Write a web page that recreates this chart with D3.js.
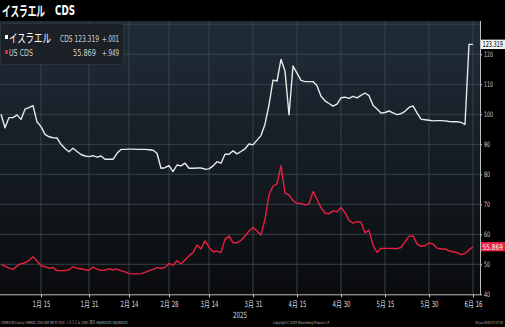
<!DOCTYPE html>
<html><head><meta charset="utf-8">
<script src="https://cdn.jsdelivr.net/npm/d3@7"></script>
<style>
html,body{margin:0;padding:0;background:#000;}
svg{display:block;}
text{font-family:"Liberation Sans Narrow","DejaVu Sans Condensed","Noto Sans CJK JP",sans-serif;}
.jp{font-family:"Noto Sans CJK JP",sans-serif;}
</style></head><body>
<svg id="c" width="505" height="327"></svg>
<script>
const dates = [
"2025-01-01","2025-01-02","2025-01-03","2025-01-06","2025-01-07","2025-01-08","2025-01-09","2025-01-10","2025-01-13","2025-01-14",
"2025-01-15","2025-01-16","2025-01-17","2025-01-20","2025-01-21","2025-01-22","2025-01-23","2025-01-24","2025-01-27","2025-01-28",
"2025-01-29","2025-01-30","2025-01-31","2025-02-03","2025-02-04","2025-02-05","2025-02-06","2025-02-07","2025-02-10","2025-02-11",
"2025-02-12","2025-02-13","2025-02-14","2025-02-17","2025-02-18","2025-02-19","2025-02-20","2025-02-21","2025-02-24","2025-02-25",
"2025-02-26","2025-02-27","2025-02-28","2025-03-03","2025-03-04","2025-03-05","2025-03-06","2025-03-07","2025-03-10","2025-03-11",
"2025-03-12","2025-03-13","2025-03-14","2025-03-17","2025-03-18","2025-03-19","2025-03-20","2025-03-21","2025-03-24","2025-03-25",
"2025-03-26","2025-03-27","2025-03-28","2025-03-31","2025-04-01","2025-04-02","2025-04-03","2025-04-04","2025-04-07","2025-04-08",
"2025-04-09","2025-04-10","2025-04-11","2025-04-14","2025-04-15","2025-04-16","2025-04-17","2025-04-18","2025-04-21","2025-04-22",
"2025-04-23","2025-04-24","2025-04-25","2025-04-28","2025-04-29","2025-04-30","2025-05-01","2025-05-02","2025-05-05","2025-05-06",
"2025-05-07","2025-05-08","2025-05-09","2025-05-12","2025-05-13","2025-05-14","2025-05-15","2025-05-16","2025-05-19","2025-05-20",
"2025-05-21","2025-05-22","2025-05-23","2025-05-26","2025-05-27","2025-05-28","2025-05-29","2025-05-30","2025-06-02","2025-06-03",
"2025-06-04","2025-06-05","2025-06-06","2025-06-09","2025-06-10","2025-06-11","2025-06-12","2025-06-13","2025-06-16"
];
const israelCDS = [
100.0, 95.5, 98.9, 98.9, 99.8, 98.3, 101.7, 102.2, 102.9, 97.5,
95.9, 93.3, 92.5, 92.2, 92.1, 90.0, 88.6, 87.5, 88.7, 87.6,
86.6, 86.1, 85.9, 86.2, 85.7, 86.1, 85.0, 85.0, 85.0, 87.0,
88.3, 88.3, 88.4, 88.4, 88.3, 88.3, 88.3, 88.2, 88.0, 87.0,
82.0, 82.2, 82.9, 80.9, 83.1, 82.8, 83.7, 82.0, 82.0, 82.1,
82.1, 81.7, 81.8, 82.8, 84.2, 83.7, 86.7, 86.7, 87.8, 86.8,
87.6, 88.5, 90.1, 89.8, 91.4, 92.9, 96.7, 103.1, 111.4, 111.1,
118.3, 114.4, 99.8, 116.1, 113.7, 111.3, 110.9, 110.9, 110.9, 109.5,
106.0, 104.5, 103.6, 102.7, 103.4, 105.5, 105.7, 105.3, 106.0, 105.5,
106.3, 107.1, 106.2, 103.0, 101.8, 100.4, 100.6, 101.1, 100.5, 99.9,
100.2, 101.0, 102.3, 102.8, 100.5, 98.4, 98.2, 98.0, 97.8, 97.9,
97.9, 97.8, 97.6, 97.5, 97.5, 97.3, 96.6, 123.3, 123.319
];
const usCDS = [
50.0, 49.4, 48.7, 48.3, 49.4, 50.2, 50.5, 51.3, 52.5, 51.2,
49.5, 49.2, 48.7, 48.9, 47.9, 47.9, 47.9, 48.2, 49.2, 48.7,
48.5, 48.2, 48.0, 49.1, 48.4, 48.0, 48.1, 48.5, 48.2, 48.4,
47.8, 47.5, 46.9, 46.8, 46.8, 46.9, 47.3, 47.9, 48.3, 48.9,
48.6, 49.0, 50.3, 49.7, 51.2, 50.1, 51.4, 52.8, 53.9, 56.4,
55.1, 57.8, 55.7, 54.2, 54.4, 53.9, 58.3, 59.4, 57.2, 57.2,
58.0, 59.4, 61.1, 62.3, 61.1, 59.8, 65.0, 73.1, 76.1, 76.8,
82.9, 73.7, 73.1, 71.2, 70.3, 70.3, 69.8, 70.1, 74.2, 71.7,
68.9, 67.1, 66.8, 67.8, 67.5, 68.9, 67.2, 64.7, 63.7, 64.2,
64.0, 60.5, 61.4, 56.4, 54.0, 55.3, 55.3, 55.3, 55.3, 55.2,
55.6, 57.5, 59.3, 59.5, 56.8, 56.0, 56.2, 57.1, 56.8, 55.4,
55.1, 55.1, 54.5, 54.2, 53.9, 53.2, 53.6, 54.8, 55.869
];
const tickDates = ["2025-01-15","2025-01-31","2025-02-14","2025-02-28","2025-03-14","2025-03-31","2025-04-15","2025-04-30","2025-05-15","2025-05-30","2025-06-16"];
const tickLabels = ["1月 15","1月 31","2月 14","2月 28","3月 14","3月 31","4月 15","4月 30","5月 15","5月 30","6月 16"];
const yTicks = [40,50,60,70,80,90,100,110,120];
const gridVals = [50,60,70,80,90,100,110,120,130];
const seriesNames = ["イスラエル","US CDS"];
const lastVals = ["123.319","55.869"];
const changes = ["+.001","+.949"];

const W = 505, H = 327;
const plotL = 0, plotR = 480, plotT = 21, plotB = 294.3;
const svg = d3.select("#c");

// squeeze a text horizontally to a target width, keeping its anchor point fixed
function fit(sel, w) {
  sel.each(function() {
    const t = d3.select(this);
    const L = this.getComputedTextLength();
    if (!L) return;
    const ax = +(t.attr("x") || 0);
    t.attr("transform", `translate(${ax},0) scale(${w / L},1) translate(${-ax},0)`);
  });
  return sel;
}

const defs = svg.append("defs");
const grad = defs.append("linearGradient").attr("id","bg").attr("x1",0).attr("y1",0).attr("x2",0).attr("y2",1);
grad.append("stop").attr("offset","0%").attr("stop-color","#202d39");
grad.append("stop").attr("offset","55%").attr("stop-color","#141b22");
grad.append("stop").attr("offset","100%").attr("stop-color","#0a0b0d");

svg.append("rect").attr("width",W).attr("height",H).attr("fill","#000");
svg.append("rect").attr("x",plotL).attr("y",plotT).attr("width",plotR-plotL).attr("height",plotB-plotT).attr("fill","url(#bg)");

const x = d3.scalePoint().domain(dates).range([1,473]);
const y = d3.scaleLinear().domain([40,130]).range([294.3,24.3]);

// grid
svg.append("g").selectAll("line").data(gridVals).join("line")
  .attr("x1",plotL).attr("x2",plotR).attr("y1",d=>y(d)).attr("y2",d=>y(d))
  .attr("stroke","#3d4852").attr("stroke-width",1).attr("opacity",0.85);
svg.append("g").selectAll("line").data(tickDates).join("line")
  .attr("x1",d=>x(d)).attr("x2",d=>x(d)).attr("y1",plotT).attr("y2",plotB)
  .attr("stroke","#3d4852").attr("stroke-width",1).attr("opacity",0.85);

// lines
const line = d3.line().x((d,i)=>x(dates[i])).y(d=>y(d));
svg.append("path").datum(usCDS).attr("d",line).attr("fill","none").attr("stroke","#e8203f").attr("stroke-width",1.4).attr("stroke-linejoin","round");
svg.append("path").datum(israelCDS).attr("d",line).attr("fill","none").attr("stroke","#e8e8e8").attr("stroke-width",1.4).attr("stroke-linejoin","round");

// axes
const yAx = svg.append("g").attr("transform",`translate(${plotR},0)`)
  .call(d3.axisRight(y).tickValues(yTicks).tickSize(2).tickPadding(2).tickFormat(d3.format("d")));
yAx.select(".domain").remove();
yAx.selectAll("line").attr("stroke","#cfcfcf");
yAx.selectAll("text").attr("fill","#d0d0d0").attr("font-size","7.5px")
  .each(function(d){ fit(d3.select(this), String(d).length*3); });
svg.append("line").attr("x1",plotR+0.5).attr("x2",plotR+0.5).attr("y1",plotT).attr("y2",plotB).attr("stroke","#bdbdbd").attr("stroke-width",1);

const xAx = svg.append("g").attr("transform",`translate(0,${plotB})`)
  .call(d3.axisBottom(x).tickValues(tickDates).tickSize(3).tickPadding(4).tickFormat((d,i)=>tickLabels[i]));
xAx.select(".domain").remove();
xAx.selectAll("line").attr("stroke","#cfcfcf");
fit(xAx.selectAll("text").attr("fill","#d8d8d8").attr("font-size","8.5px"), 18);
svg.append("line").attr("x1",plotL).attr("x2",plotR+0.5).attr("y1",plotB+0.5).attr("y2",plotB+0.5).attr("stroke","#bdbdbd").attr("stroke-width",1);
fit(svg.append("text").attr("x",240).attr("y",318).attr("text-anchor","middle").attr("fill","#d8d8d8").attr("font-size","8.5px").text("2025"), 14);

// value tags
const tagData = [{v:israelCDS[israelCDS.length-1], t:lastVals[0], fill:"#f2f2f2", col:"#000"},
                 {v:usCDS[usCDS.length-1], t:lastVals[1], fill:"#e8203f", col:"#fff"}];
tagData.forEach(d=>{
  svg.append("rect").attr("x",481).attr("y",y(d.v)-4.7).attr("width",24).attr("height",9.4).attr("fill",d.fill);
  fit(svg.append("text").attr("x",482.5).attr("y",y(d.v)+3).attr("fill",d.col).attr("font-size","8px").text(d.t), 20.5);
});

// title
fit(svg.append("text").attr("class","jp").attr("x",2).attr("y",15.5).attr("fill","#fff").attr("font-size","14px").attr("font-weight","bold").text("イスラエル"), 43);
fit(svg.append("text").attr("x",55).attr("y",15.5).attr("fill","#fff").attr("font-size","14px").attr("font-weight","bold").text("CDS"), 20);

// legend
svg.append("rect").attr("x",0.5).attr("y",23.5).attr("width",123).attr("height",41).attr("rx",3)
  .attr("fill","#1c2127").attr("stroke","#2c333a").attr("stroke-width",1);
svg.append("rect").attr("x",5).attr("y",35).attr("width",3).attr("height",4).attr("fill","#fff");
fit(svg.append("text").attr("class","jp").attr("x",9).attr("y",43).attr("fill","#fff").attr("font-size","12px").text(seriesNames[0]), 42);
fit(svg.append("text").attr("x",60).attr("y",42).attr("fill","#d0d0d0").attr("font-size","9.5px").text("CDS " + lastVals[0]), 39);
fit(svg.append("text").attr("x",102).attr("y",42).attr("fill","#d0d0d0").attr("font-size","9.5px").text(changes[0]), 17);
svg.append("rect").attr("x",5).attr("y",50).attr("width",3).attr("height",4).attr("fill","#e8203f");
fit(svg.append("text").attr("x",9).attr("y",56.5).attr("fill","#d0d0d0").attr("font-size","9.5px").text(seriesNames[1]), 24);
fit(svg.append("text").attr("x",73).attr("y",56.5).attr("fill","#d0d0d0").attr("font-size","9.5px").text(lastVals[1]), 23);
fit(svg.append("text").attr("x",102).attr("y",56.5).attr("fill","#d0d0d0").attr("font-size","9.5px").text(changes[1]), 17);

// footer
fit(svg.append("text").attr("x",1).attr("y",324.5).attr("fill","#bdbdbd").attr("font-size","4px")
  .text("CDSR1U5 Curncy (ISRAEL CDS USD SR 5Y D14 イスラエル CDS) 週足 09JAN2025-16JUN2025"), 127);
fit(svg.append("text").attr("x",273).attr("y",324.5).attr("fill","#bdbdbd").attr("font-size","4px")
  .text("Copyright© 2025 Bloomberg Finance L.P."), 57);
fit(svg.append("text").attr("x",475).attr("y",324.5).attr("fill","#bdbdbd").attr("font-size","4px")
  .text("16-Jun-2025 07:07:29"), 28);
</script></body></html>
